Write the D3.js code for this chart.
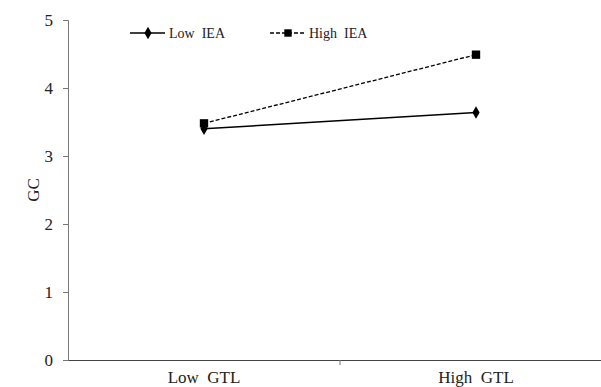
<!DOCTYPE html>
<html>
<head>
<meta charset="utf-8">
<script src="https://cdn.jsdelivr.net/npm/d3@7"></script>
<style>
  body { margin: 0; background: #fff; }
  svg text { font-family: "Liberation Serif", "Times New Roman", serif; fill: #222; }
</style>
</head>
<body>
<svg width="601" height="387"></svg>
<script>
const width = 601;
const height = 387;

// 数据
const categories = ["Low  GTL", "High  GTL"];
const seriesNames = ["Low  IEA", "High  IEA"];
const lowIEA = [3.40, 3.64];
const highIEA = [3.48, 4.49];
const yTicks = [0, 1, 2, 3, 4, 5];

const margin = {left: 68, top: 20, right: -11, bottom: 27};

const svg = d3.select("svg");

const x = d3.scaleBand()
    .domain(categories)
    .range([margin.left, width - margin.right]);

const y = d3.scaleLinear()
    .domain([0, 5])
    .range([height - margin.bottom, margin.top]);

const axisColor = "#777";

// y 轴
const gy = svg.append("g")
    .attr("transform", `translate(${margin.left},0)`)
    .call(d3.axisLeft(y).tickValues(yTicks).tickSize(5).tickPadding(10).tickFormat(d3.format("d")));
gy.select(".domain").attr("stroke", axisColor);
gy.selectAll(".tick line").attr("stroke", axisColor);
gy.selectAll("text").attr("font-size", 17).style("font-family", "Liberation Serif");

// x 轴
const gx = svg.append("g")
    .attr("transform", `translate(0,${y(0)})`)
    .call(d3.axisBottom(x).tickSize(0).tickPadding(11));
gx.select(".domain").attr("stroke", "#444");
gx.selectAll("text").attr("font-size", 17).style("font-family", "Liberation Serif").style("white-space", "pre");

// 类别间分隔刻度
gx.append("line")
    .attr("x1", x(categories[1])).attr("x2", x(categories[1]))
    .attr("y1", 0).attr("y2", 5)
    .attr("stroke", axisColor);

// y 轴标题
svg.append("text")
    .attr("transform", `translate(39,${(y(0) + y(5)) / 2}) rotate(-90)`)
    .attr("text-anchor", "middle")
    .attr("font-size", 17)
    .text("GC");

const cx = d => x(d) + x.bandwidth() / 2;

const line = d3.line()
    .x((d, i) => cx(categories[i]))
    .y(d => y(d));

const diamond = d3.symbol().type(d3.symbolDiamond).size(45);
const square = d3.symbol().type(d3.symbolSquare).size(70);

// High IEA 虚线
svg.append("path")
    .datum(highIEA)
    .attr("fill", "none")
    .attr("stroke", "#000")
    .attr("stroke-width", 1.3)
    .attr("stroke-dasharray", "4,2")
    .attr("d", line);

// Low IEA 实线
svg.append("path")
    .datum(lowIEA)
    .attr("fill", "none")
    .attr("stroke", "#000")
    .attr("stroke-width", 1.5)
    .attr("d", line);

svg.selectAll("path.hi")
    .data(highIEA)
    .enter()
    .append("path")
    .attr("class", "hi")
    .attr("d", square)
    .attr("transform", (d, i) => `translate(${cx(categories[i])},${y(d)})`);

svg.selectAll("path.lo")
    .data(lowIEA)
    .enter()
    .append("path")
    .attr("class", "lo")
    .attr("d", diamond)
    .attr("transform", (d, i) => `translate(${cx(categories[i])},${y(d)})`);

// 图例
const legend = [
    {x: 130, dash: null, sym: diamond, name: seriesNames[0]},
    {x: 270, dash: "4,2", sym: square, name: seriesNames[1]}
];
const lg = svg.selectAll("g.legend")
    .data(legend)
    .enter()
    .append("g")
    .attr("class", "legend")
    .attr("transform", d => `translate(${d.x},33)`);
lg.append("line")
    .attr("x1", 0).attr("x2", 35)
    .attr("stroke", "#000")
    .attr("stroke-width", 1.3)
    .attr("stroke-dasharray", d => d.dash);
lg.append("path")
    .attr("d", d => d.sym === square ? d3.symbol().type(d3.symbolSquare).size(55)() : d.sym())
    .attr("transform", "translate(18,0)");
lg.append("text")
    .attr("x", 39)
    .attr("y", 5)
    .attr("font-size", 14)
    .style("white-space", "pre")
    .text(d => d.name);
</script>
</body>
</html>
